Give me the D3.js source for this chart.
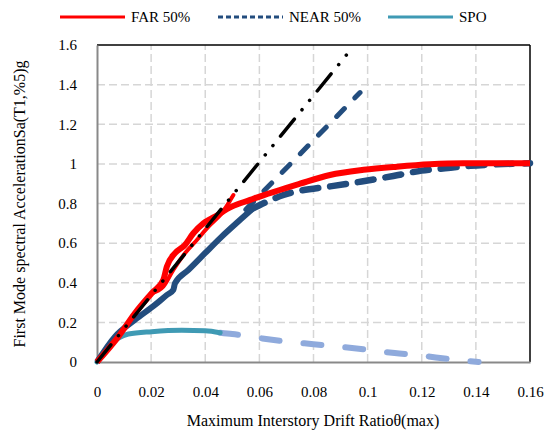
<!DOCTYPE html>
<html><head><meta charset="utf-8">
<script src="https://cdn.jsdelivr.net/npm/d3@7"></script>
<style>body{margin:0;background:#fff}svg{display:block}text{font-family:"Liberation Serif","Times New Roman","DejaVu Serif",serif !important;fill:#000}</style>
</head><body><div id="chart"></div>
<script>
// ---- data ----
const xTicks = [0,0.02,0.04,0.06,0.08,0.1,0.12,0.14,0.16];
const yTicks = [0,0.2,0.4,0.6,0.8,1,1.2,1.4,1.6];
const farX = [0,0.0079,0.014,0.0202,0.0245,0.0258,0.0288,0.0325,0.0356,0.0393,0.0436,0.0498,0.0566,0.0584,0.075,0.0861,0.0985,0.1108,0.123,0.1353,0.16];
const farY = [0,0.128,0.246,0.347,0.414,0.481,0.549,0.591,0.650,0.700,0.734,0.784,0.818,0.827,0.90,0.944,0.970,0.986,0.998,1.003,1.003];
const far2X = [0.0202,0.0245,0.0282,0.0325,0.0369,0.0412,0.0461,0.0504];
const far2Y = [0.347,0.380,0.465,0.549,0.616,0.683,0.751,0.843];
const nearSolidX = [0,0.00665,0.014,0.0214,0.0258,0.0282,0.0288,0.0338,0.0399,0.0461,0.0522,0.0584];
const nearSolidY = [0,0.128,0.212,0.288,0.338,0.364,0.397,0.465,0.549,0.633,0.709,0.784];
const nearDashX = [0.0566,0.0689,0.0874,0.0978,0.1095,0.120,0.1286,0.1379,0.16];
const nearDashY = [0.768,0.843,0.889,0.911,0.939,0.966,0.978,0.990,1.003];
const nearElasticX = [0.055,0.0972];
const nearElasticY = [0.77,1.36];
const farElasticX = [0,0.094];
const farElasticY = [0,1.58];
const spoX = [0,0.0079,0.0116,0.0202,0.0313,0.040,0.0455];
const spoY = [0,0.12,0.141,0.153,0.160,0.158,0.148];
const spoDashX = [0.0455,0.05,0.06,0.07,0.08,0.09,0.1,0.11,0.12,0.13,0.141];
const spoDashY = [0.148,0.141,0.121,0.103,0.09,0.077,0.062,0.045,0.032,0.015,0.0];
const legendLabels = ["FAR 50%","NEAR 50%","SPO"];

const FONT='"Liberation Serif","Times New Roman","DejaVu Serif",serif';
const W=555,H=432;
const svg=d3.select("#chart").append("svg").attr("width",W).attr("height",H);
const x=d3.scaleLinear().domain([0,0.16]).range([97,530]);
const y=d3.scaleLinear().domain([0,1.6]).range([362,45]);

// grid
const g=svg.append("g");
g.selectAll("line.vg").data(xTicks.slice(1,-1)).enter().append("line")
 .attr("x1",d=>x(d)).attr("x2",d=>x(d)).attr("y1",y(0)).attr("y2",y(1.6))
 .attr("stroke","#d6d6d6").attr("stroke-width",1.5).attr("stroke-dasharray","8 4");
g.selectAll("line.hg").data(yTicks.slice(1,-1)).enter().append("line")
 .attr("y1",d=>y(d)).attr("y2",d=>y(d)).attr("x1",x(0)).attr("x2",x(0.16))
 .attr("stroke","#d6d6d6").attr("stroke-width",1.5).attr("stroke-dasharray","8 4");

// frame
svg.append("line").attr("x1",x(0)).attr("x2",x(0.16)).attr("y1",y(1.6)).attr("y2",y(1.6)).attr("stroke","#000").attr("stroke-width",1.5);
svg.append("line").attr("x1",x(0.16)).attr("x2",x(0.16)).attr("y1",y(0)).attr("y2",y(1.6)).attr("stroke","#000").attr("stroke-width",1.5);

// axes
const xAxis=d3.axisBottom(x).tickValues(xTicks).tickSize(0).tickPadding(24).tickFormat(d=>String(+d.toFixed(2)));
const ax=svg.append("g").attr("transform",`translate(0,${y(0)})`).call(xAxis);
const yAxis=d3.axisLeft(y).tickValues(yTicks).tickSize(0).tickPadding(20).tickFormat(d=>String(+d.toFixed(1)));
const ay=svg.append("g").attr("transform",`translate(${x(0)},0)`).call(yAxis);
[ax,ay].forEach(a=>{a.attr("font-family",FONT).attr("font-size",15);
 a.select(".domain").attr("stroke","#898989").attr("stroke-width",2);
 a.selectAll("text").style("font-family",FONT).attr("font-size",15).attr("fill","#000");});

const line=d3.line().x(d=>x(d[0])).y(d=>y(d[1])).curve(d3.curveMonotoneX);
const lineL=d3.line().x(d=>x(d[0])).y(d=>y(d[1]));
const zip=(a,b)=>a.map((v,i)=>[v,b[i]]);

const plot=svg.append("g");
// SPO
plot.append("path").attr("d",line(zip(spoDashX,spoDashY))).attr("fill","none").attr("stroke","#8FAADC").attr("stroke-width",6).attr("stroke-linecap","round").attr("stroke-dasharray","18 24");
plot.append("path").attr("d",line(zip(spoX,spoY))).attr("fill","none").attr("stroke","#3F9AB4").attr("stroke-width",5).attr("stroke-linecap","round");
// NEAR
plot.append("path").attr("d",lineL(zip(nearElasticX,nearElasticY))).attr("fill","none").attr("stroke","#234D7E").attr("stroke-width",5).attr("stroke-linecap","round").attr("stroke-dasharray","11 15");
plot.append("path").attr("d",line(zip(nearSolidX,nearSolidY))).attr("fill","none").attr("stroke","#234D7E").attr("stroke-width",6).attr("stroke-linejoin","round");
plot.append("path").attr("d",line(zip(nearDashX,nearDashY))).attr("fill","none").attr("stroke","#234D7E").attr("stroke-width",6.5).attr("stroke-linecap","round").attr("stroke-dasharray","16 12");
// FAR
plot.append("path").attr("d",line(zip(farX,farY))).attr("fill","none").attr("stroke","#FF0000").attr("stroke-width",6).attr("stroke-linejoin","round");
plot.append("path").attr("d",line(zip(far2X,far2Y))).attr("fill","none").attr("stroke","#FF0000").attr("stroke-width",4).attr("stroke-linecap","round");
// FAR elastic dash-dot-dot
plot.append("path").attr("d",lineL(zip(farElasticX,farElasticY))).attr("fill","none").attr("stroke","#000").attr("stroke-width",3.5).attr("stroke-linecap","round").attr("stroke-dasharray","22 12 0.1 12 0.1 12");

// titles
svg.append("text").attr("x",313).attr("y",426).attr("text-anchor","middle").style("font-family",FONT).attr("font-size",16).text("Maximum Interstory Drift Ratioθ(max)");
svg.append("text").attr("transform","translate(25,204) rotate(-90)").attr("text-anchor","middle").style("font-family",FONT).attr("font-size",16).text("First Mode spectral AccelerationSa(T1,%5)g");

// legend
const leg=svg.append("g");
const legX=[60,218,388];
const legStyles=[{c:"#FF0000",d:null,w:3},{c:"#234D7E",d:"5 3",w:3},{c:"#3F9AB4",d:null,w:3}];
legendLabels.forEach((t,i)=>{
 const l=leg.append("line").attr("x1",legX[i]).attr("x2",legX[i]+65).attr("y1",17).attr("y2",17).attr("stroke",legStyles[i].c).attr("stroke-width",legStyles[i].w);
 if(legStyles[i].d) l.attr("stroke-dasharray",legStyles[i].d);
 leg.append("text").attr("x",legX[i]+71).attr("y",17).attr("dy","0.35em").style("font-family",FONT).attr("font-size",15).text(t);
});
</script></body></html>
